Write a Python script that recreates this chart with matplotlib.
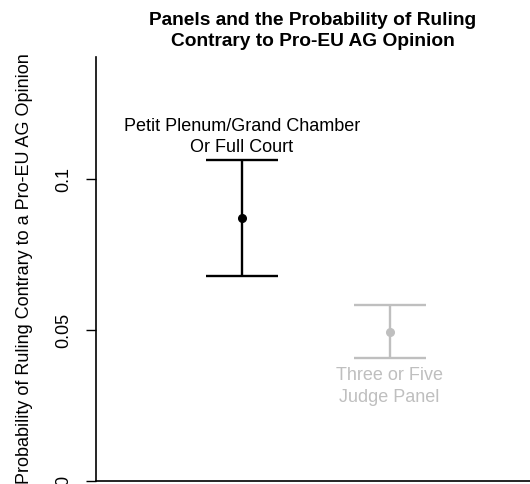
import numpy as np
import matplotlib.pyplot as plt

plt.rcParams['font.family'] = ['Liberation Sans', 'DejaVu Sans']

# estimated probabilities with confidence bounds
groups = ["Petit Plenum/Grand Chamber\nOr Full Court", "Three or Five\nJudge Panel"]
estimate = [0.0871, 0.0493]
lower = [0.0679, 0.0407]
upper = [0.1063, 0.0583]
colors = ["black", "#bfbfbf"]

fig = plt.figure(figsize=(5.3, 4.84), dpi=100)
ax = fig.add_axes([96/530, 3/484, 434/530, 424/484])

xpos = np.arange(1, len(groups) + 1)
for i in range(len(groups)):
    ax.errorbar(xpos[i], estimate[i],
                yerr=[[estimate[i] - lower[i]], [upper[i] - estimate[i]]],
                fmt='o', color=colors[i], ms=5.5, elinewidth=1.7,
                capsize=26, capthick=1.7)

# group labels: above the first bar, below the second
ax.text(xpos[0], upper[0] + 0.0014, groups[0], ha='center', va='bottom',
        fontsize=13, color=colors[0], linespacing=1.3)
ax.text(xpos[1], lower[1] - 0.0030, groups[1], ha='center', va='top',
        fontsize=13, color=colors[1], linespacing=1.35)

ax.set_xlim(0.014, 2.95)
ax.set_ylim(0, 0.1404)
ax.set_xticks([])
ax.set_yticks([0, 0.05, 0.1])
ax.set_yticklabels(["0", "0.05", "0.1"], rotation=90, va='center')
ax.tick_params(axis='y', length=7, width=1, pad=10, labelsize=13)
for s in ['top', 'right']:
    ax.spines[s].set_visible(False)
ax.spines['left'].set_linewidth(1.2)
ax.spines['bottom'].set_linewidth(1.2)

ax.set_ylabel("Probability of Ruling Contrary to a Pro-EU AG Opinion",
              fontsize=13, labelpad=16)
ax.set_title("Panels and the Probability of Ruling\nContrary to Pro-EU AG Opinion",
             fontsize=13.8, fontweight='bold', pad=8, linespacing=1.3)

fig.savefig("out.png", dpi=100)
